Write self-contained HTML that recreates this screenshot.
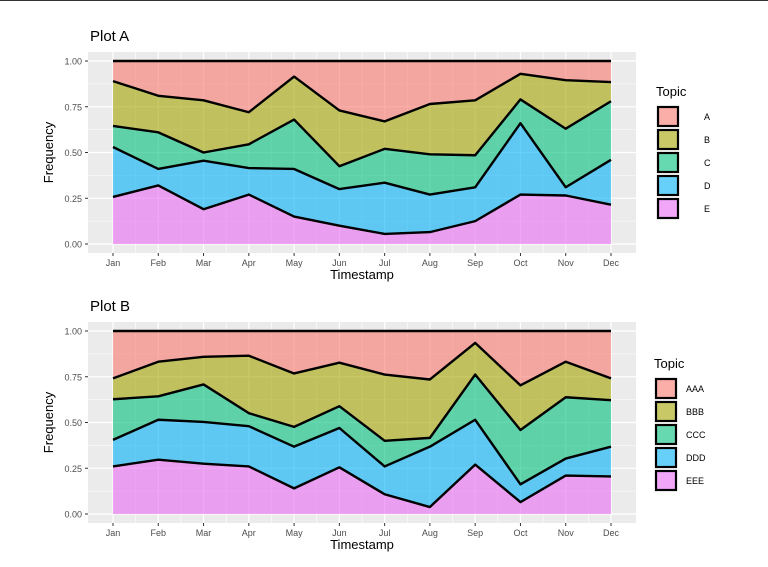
<!DOCTYPE html>
<html><head><meta charset="utf-8"><style>
body{margin:0;background:#fff;}
svg{display:block;font-family:"Liberation Sans",Arial,sans-serif;}
</style></head><body>
<svg id="c" width="768" height="567" viewBox="0 0 768 567"><line x1="0" x2="768" y1="0.5" y2="0.5" stroke="#333" stroke-width="1"/></svg>
<script>
const months=["Jan","Feb","Mar","Apr","May","Jun","Jul","Aug","Sep","Oct","Nov","Dec"];
const yTicks=[0,0.25,0.5,0.75,1];
const yTickLabels=["0.00","0.25","0.50","0.75","1.00"];
// Plot A cumulative stack tops (E, E+D, E+D+C, E+D+C+B)
const aTopE=[0.257,0.32,0.19,0.27,0.15,0.10,0.055,0.065,0.125,0.27,0.265,0.215];
const aTopD=[0.53,0.41,0.455,0.415,0.41,0.30,0.335,0.27,0.31,0.66,0.31,0.46];
const aTopC=[0.645,0.61,0.50,0.545,0.68,0.425,0.52,0.49,0.485,0.79,0.63,0.78];
const aTopB=[0.89,0.81,0.785,0.72,0.915,0.73,0.67,0.765,0.785,0.93,0.895,0.885];
const aTopics=["A","B","C","D","E"];
// Plot B cumulative stack tops
const bTopE=[0.26,0.297,0.275,0.26,0.14,0.255,0.108,0.038,0.27,0.065,0.21,0.205];
const bTopD=[0.405,0.515,0.503,0.48,0.368,0.47,0.26,0.368,0.515,0.162,0.303,0.368];
const bTopC=[0.627,0.643,0.708,0.551,0.476,0.589,0.40,0.416,0.762,0.459,0.638,0.622];
const bTopB=[0.741,0.832,0.859,0.865,0.768,0.827,0.762,0.735,0.935,0.703,0.832,0.741];
const bTopics=["AAA","BBB","CCC","DDD","EEE"];

const colors=["#F8766D","#A3A500","#00BF7D","#00B0F6","#E76BF3"];
const svg=document.getElementById('c');
const NS="http://www.w3.org/2000/svg";
function mk(tag,attrs,parent){const e=document.createElementNS(NS,tag);for(const k in attrs)e.setAttribute(k,attrs[k]);(parent||svg).appendChild(e);return e;}

function drawPlot(cfg){
  const g=mk('g',{});
  
  
  const L=88,R=636,T=cfg.top,B=cfg.top+201;
  const x0=113,x1=611;
  const xs=i=>x0+(x1-x0)*i/(months.length-1);
  const ys=v=>(B-9)-(B-T-18)*v;
  const t=mk('text',{x:90,y:T-11,'font-size':15,fill:'#000'},g);t.textContent=cfg.title;
  
  
  const bg=mk('rect',{x:L,y:T,width:R-L,height:B-T,fill:'#EBEBEB'},g);
  
  
  for(let i=0;i<yTicks.length-1;i++){const v=(yTicks[i]+yTicks[i+1])/2;mk('line',{x1:L,x2:R,y1:ys(v),y2:ys(v),stroke:'#fff','stroke-width':0.6},g);}
  for(let i=0;i<months.length-1;i++){const x=(xs(i)+xs(i+1))/2;mk('line',{x1:x,x2:x,y1:T,y2:B,stroke:'#fff','stroke-width':0.6},g);}
  yTicks.forEach((v,i)=>{mk('line',{x1:L,x2:R,y1:ys(v),y2:ys(v),stroke:'#fff','stroke-width':1.2},g);
    mk('line',{x1:L-3,x2:L,y1:ys(v),y2:ys(v),stroke:'#333','stroke-width':1},g);
    const l=mk('text',{x:L-6,y:ys(v)+3.5,'font-size':9,fill:'#4D4D4D','text-anchor':'end'},g);l.textContent=yTickLabels[i];
    
    });
  months.forEach((m,i)=>{mk('line',{x1:xs(i),x2:xs(i),y1:T,y2:B,stroke:'#fff','stroke-width':1.2},g);
    mk('line',{x1:xs(i),x2:xs(i),y1:B,y2:B+3,stroke:'#333','stroke-width':1},g);
    const l=mk('text',{x:xs(i),y:B+13,'font-size':9,fill:'#4D4D4D','text-anchor':'middle'},g);l.textContent=m;
    
    });
  const ones=months.map(()=>1), zeros=months.map(()=>0);
  const layers=[[cfg.tops[3],ones],[cfg.tops[2],cfg.tops[3]],[cfg.tops[1],cfg.tops[2]],[cfg.tops[0],cfg.tops[1]],[zeros,cfg.tops[0]]];
  layers.forEach((ly,k)=>{
    let d='';ly[1].forEach((v,i)=>{d+=(i?'L':'M')+xs(i)+','+ys(v);});
    for(let i=months.length-1;i>=0;i--)d+='L'+xs(i)+','+ys(ly[0][i]);
    const p=mk('path',{d:d+'Z',fill:colors[k],'fill-opacity':0.6},g);
    
    
  });
  [ones,cfg.tops[3],cfg.tops[2],cfg.tops[1],cfg.tops[0]].forEach(arr=>{
    const pts=arr.map((v,i)=>xs(i)+','+ys(v)).join(' ');
    mk('polyline',{points:pts,fill:'none',stroke:'#000','stroke-width':2.4,'stroke-linejoin':'round'},g);
  });
  const xt=mk('text',{x:(L+R)/2,y:B+26,'font-size':13,'text-anchor':'middle'},g);xt.textContent='Timestamp';
  
  
  const yt=mk('text',{x:0,y:0,'font-size':13,'text-anchor':'middle',transform:`translate(53,${(T+B)/2}) rotate(-90)`},g);yt.textContent='Frequency';
  
  
  const lg=mk('g',{},g);
  
  
  const lt=mk('text',{x:cfg.legX,y:cfg.legY,'font-size':13},lg);lt.textContent='Topic';
  cfg.topics.forEach((tp,k)=>{
    const y=cfg.legY+9+k*23;
    mk('rect',{x:cfg.legX+2,y:y+2,width:20,height:19,fill:'#fff'},lg);
    const r=mk('rect',{x:cfg.legX+2,y:y+2,width:20,height:19,fill:colors[k],'fill-opacity':0.6,stroke:'#000','stroke-width':2.2},lg);
    
    
    const tx=mk('text',{x:cfg.labX,y:y+15,'font-size':9},lg);tx.textContent=tp;
    
    
  });
}
drawPlot({id:'plot-a',title:'Plot A',top:52,tops:[aTopE,aTopD,aTopC,aTopB],topics:aTopics,legX:656,legY:96,labX:704});
drawPlot({id:'plot-b',title:'Plot B',top:322,tops:[bTopE,bTopD,bTopC,bTopB],topics:bTopics,legX:654,legY:368,labX:686});
</script>
</body></html>
